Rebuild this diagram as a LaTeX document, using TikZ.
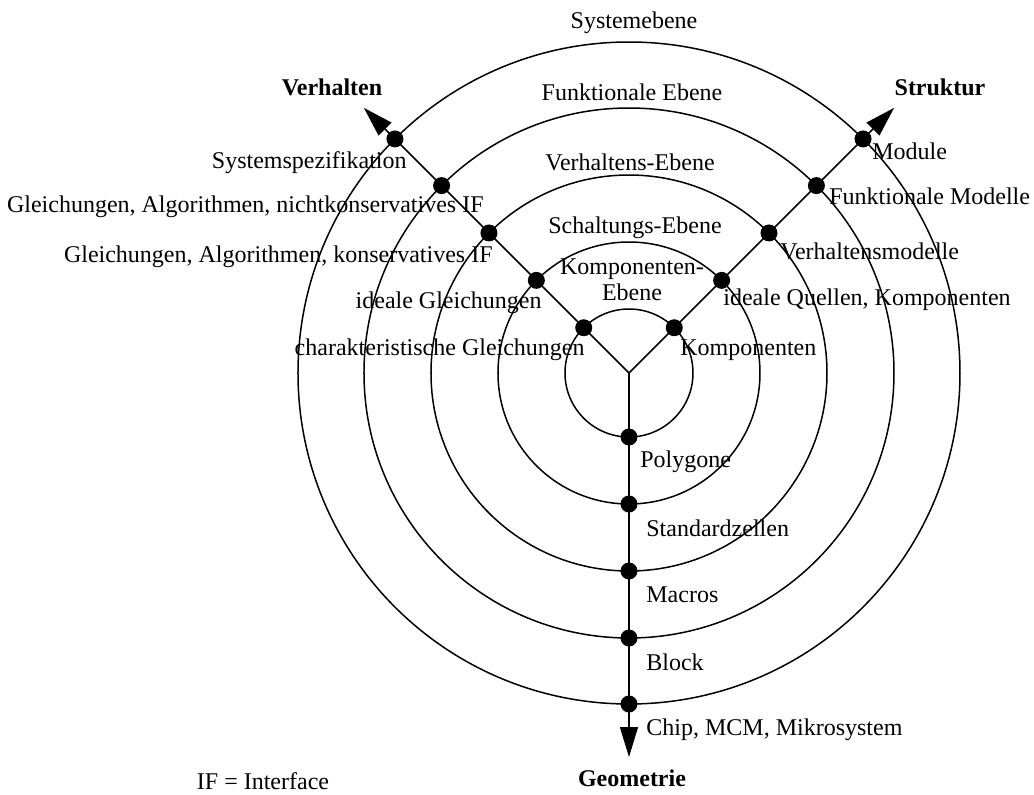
\documentclass[tikz,border=0pt]{standalone}
\usepackage{fontspec}
\setmainfont{Liberation Serif}
\usetikzlibrary{arrows.meta}
\tikzset{
  levelring/.style={draw=black, line width=0.75pt},
  axisarrow/.style={-{Triangle[length=15pt,width=9pt]}, line width=0.75pt},
  hitdot/.style={circle, fill=black, inner sep=0pt, minimum size=8.5pt},
  leveltext/.style={font=\fontsize{12}{12}\selectfont, inner sep=0pt},
  axistext/.style={font=\fontsize{12}{12}\selectfont\bfseries, inner sep=0pt},
}

\begin{document}
\begin{tikzpicture}[x=0.5pt, y=0.5pt]
  \useasboundingbox (-629,373) rectangle (405,-421);
  \coordinate (c) at (0,0);
  % level circles
  \foreach \r in {64,131,198,265,331}
    \draw[levelring] (c) circle (\r);
  % the three axes
  \coordinate (vtip) at (135:375);
  \coordinate (stip) at (45:375);
  \coordinate (gtip) at (0,-384);
  \foreach \t in {vtip,stip,gtip}
    \draw[axisarrow] (c) -- (\t);
  % dots where axes cross the levels
  \foreach \r [count=\i] in {64,131,198,265,331} {
    \node[hitdot] (v\i) at (135:\r) {};
    \node[hitdot] (s\i) at (45:\r) {};
    \node[hitdot] (g\i) at (270:\r) {};
  }
  % axis names
  \node[axistext] (verh) at (-297,286) {Verhalten};
  \node[axistext] (strk) at (311,286) {Struktur};
  \node[axistext] (geom) at (3,-405) {Geometrie};
  \node[leveltext] (ifnote) at (-366,-408) {IF = Interface};
  % level names
  \node[leveltext] (lsys) at (5,350) {Systemebene};
  \node[leveltext] (lfun) at (3,281) {Funktionale Ebene};
  \node[leveltext] (lver) at (1,211) {Verhaltens-Ebene};
  \node[leveltext] (lsch) at (6,145) {Schaltungs-Ebene};
  \node[leveltext, align=center] (lkom) at (3,93) {Komponenten-\\[1pt]Ebene};
  % behaviour side
  \node[leveltext, anchor=east] (vt5) at (-222,210) {Systemspezifikation};
  \node[leveltext, anchor=east] (vt4) at (-145,166) {Gleichungen, Algorithmen, nichtkonservatives IF};
  \node[leveltext, anchor=east] (vt3) at (-136,116) {Gleichungen, Algorithmen, konservatives IF};
  \node[leveltext, anchor=east] (vt2) at (-87,70) {ideale Gleichungen};
  \node[leveltext, anchor=east] (vt1) at (-44,23) {charakteristische Gleichungen};
  % structure side
  \node[leveltext, anchor=west] (st5) at (243,222) {Module};
  \node[leveltext, anchor=west] (st4) at (200,177) {Funktionale Modelle};
  \node[leveltext, anchor=west] (st3) at (151,122) {Verhaltensmodelle};
  \node[leveltext, anchor=west] (st2) at (94,73) {ideale Quellen, Komponenten};
  \node[leveltext, anchor=west] (st1) at (51,23) {Komponenten};
  % geometry side
  \node[leveltext, anchor=west] (gt1) at (11,-89) {Polygone};
  \node[leveltext, anchor=west] (gt2) at (17,-155) {Standardzellen};
  \node[leveltext, anchor=west] (gt3) at (17,-222) {Macros};
  \node[leveltext, anchor=west] (gt4) at (17,-289) {Block};
  \node[leveltext, anchor=west] (gt5) at (17,-357) {Chip, MCM, Mikrosystem};
\end{tikzpicture}
\end{document}
